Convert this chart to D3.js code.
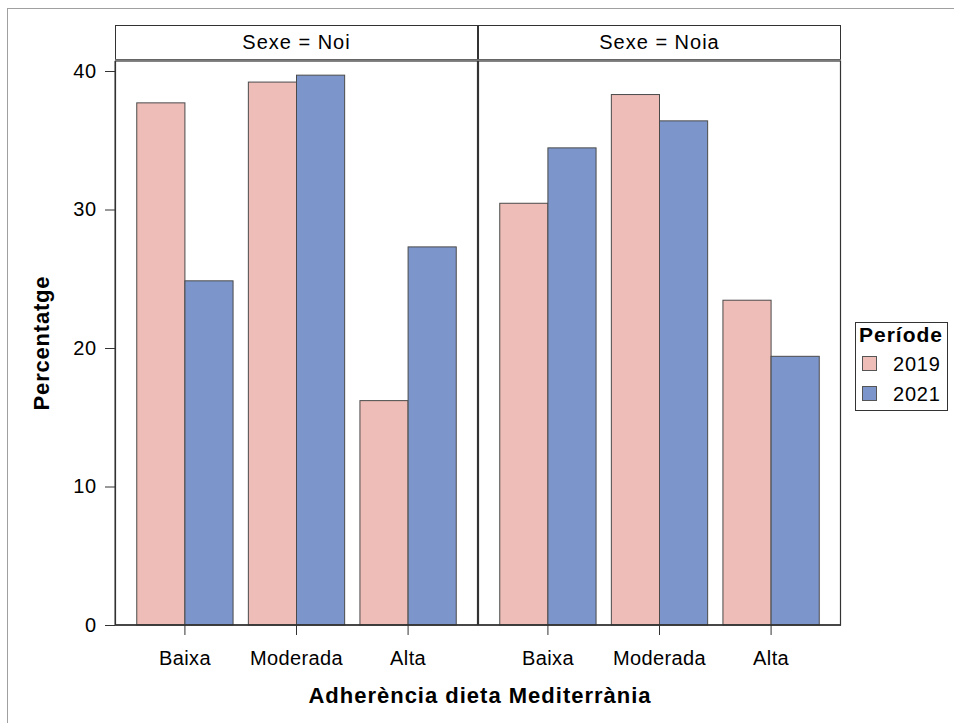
<!DOCTYPE html>
<html><head><meta charset="utf-8">
<script src="https://cdn.jsdelivr.net/npm/d3@7"></script>
<style>body{margin:0;background:#fff}svg{display:block}text{font-family:"Liberation Sans",Arial,sans-serif}</style>
</head><body><div id="chart"></div>
<script>
const panels = ["Noi", "Noia"];
const categories = ["Baixa", "Moderada", "Alta"];
const periods = ["2019", "2021"];
const values2019 = { Noi: [37.7, 39.2, 16.2], Noia: [30.45, 38.3, 23.45] };
const values2021 = { Noi: [24.85, 39.7, 27.3], Noia: [34.45, 36.4, 19.4] };
const yTicks = [0, 10, 20, 30, 40];
const colors = ["#EFBDB7", "#7C96CB"];

const W = 954, H = 723;
const FONT = "Liberation Sans, Arial, sans-serif";
const svg = d3.select("#chart").append("svg").attr("width", W).attr("height", H);

// outer frame
svg.append("rect").attr("x", 7.5).attr("y", 8.5).attr("width", W + 10).attr("height", H + 10)
  .attr("fill", "none").attr("stroke", "#a0a0a0");

const pTop = 61, pBottom = 625;
const panelX = [[115, 478], [478, 841]];
const y = d3.scaleLinear().domain([0, 40]).range([pBottom, 71]);

panels.forEach((p, i) => {
  const [x0, x1] = panelX[i];
  const x = d3.scaleBand().domain(categories).range([x0, x1]).paddingInner(0.137).paddingOuter(0.195);
  const xs = d3.scaleBand().domain(periods).range([0, x.bandwidth()]);
  const g = svg.append("g");
  categories.forEach((c, ci) => {
    const vals = [values2019[p][ci], values2021[p][ci]];
    periods.forEach((per, pi) => {
      g.append("rect")
        .attr("x", x(c) + xs(per)).attr("y", y(vals[pi]))
        .attr("width", xs.bandwidth()).attr("height", y(0) - y(vals[pi]))
        .attr("fill", colors[pi]).attr("stroke", "#4a4a4a").attr("stroke-width", 1);
    });
  });
  // panel border
  svg.append("rect").attr("x", x0 + 0.5).attr("y", pTop).attr("width", x1 - x0 - 1).attr("height", pBottom - pTop)
    .attr("fill", "none").attr("stroke", "#333").attr("stroke-width", 1.2);
  // strip
  svg.append("rect").attr("x", x0 + 0.5).attr("y", 25.5).attr("width", x1 - x0 - 1).attr("height", 34)
    .attr("fill", "#fff").attr("stroke", "#333").attr("stroke-width", 1);
  svg.append("line").attr("x1", x0).attr("x2", x1).attr("y1", 60).attr("y2", 60).attr("stroke", "#777").attr("stroke-width", 1.5);
  svg.append("text").attr("x", (x0 + x1) / 2).attr("y", 49).attr("text-anchor", "middle")
    .attr("font-size", 20).attr("letter-spacing", 1).attr("fill", "#000").text("Sexe = " + p);
  // x axis
  const ax = svg.append("g").attr("transform", `translate(0,${pBottom})`)
    .call(d3.axisBottom(x).tickSize(10).tickPadding(16));
  ax.select(".domain").remove();
  ax.selectAll("line").attr("stroke", "#333");
  ax.selectAll("text").attr("font-size", 20).attr("letter-spacing", 0.4).attr("fill", "#000").attr("font-family", FONT);
});

// y axis
const ay = svg.append("g").attr("transform", "translate(115,0)")
  .call(d3.axisLeft(y).tickValues(yTicks).tickSize(10).tickPadding(8));
ay.select(".domain").attr("d", `M0,${pTop}V${pBottom}`).attr("stroke", "#333");
ay.selectAll("line").attr("stroke", "#333");
ay.selectAll("text").attr("font-size", 20).attr("letter-spacing", 0.8).attr("fill", "#000").attr("font-family", FONT);
svg.append("line").attr("x1", 115).attr("x2", 841).attr("y1", pBottom).attr("y2", pBottom).attr("stroke", "#333").attr("stroke-width", 1.5);

// axis titles
svg.append("text").attr("transform", `translate(49,${(pTop + pBottom) / 2}) rotate(-90)`)
  .attr("text-anchor", "middle").attr("font-size", 22).attr("letter-spacing", 0.8).attr("font-weight", "bold").text("Percentatge");
svg.append("text").attr("x", 480).attr("y", 703).attr("text-anchor", "middle")
  .attr("font-size", 22).attr("letter-spacing", 1).attr("font-weight", "bold").text("Adherència dieta Mediterrània");

// legend
const lg = svg.append("g").attr("transform", "translate(855,322)");
lg.append("rect").attr("x", 0.5).attr("y", 0.5).attr("width", 92).attr("height", 88).attr("fill", "#fff").attr("stroke", "#333");
lg.append("text").attr("x", 4).attr("y", 20).attr("font-size", 21).attr("letter-spacing", 1).attr("font-weight", "bold").text("Període");
periods.forEach((per, i) => {
  lg.append("rect").attr("x", 7.5).attr("y", 34.5 + i * 30).attr("width", 14).attr("height", 14)
    .attr("fill", colors[i]).attr("stroke", "#555");
  lg.append("text").attr("x", 38).attr("y", 49 + i * 30).attr("font-size", 20).attr("letter-spacing", 0.8).text(per);
});
</script></body></html>
